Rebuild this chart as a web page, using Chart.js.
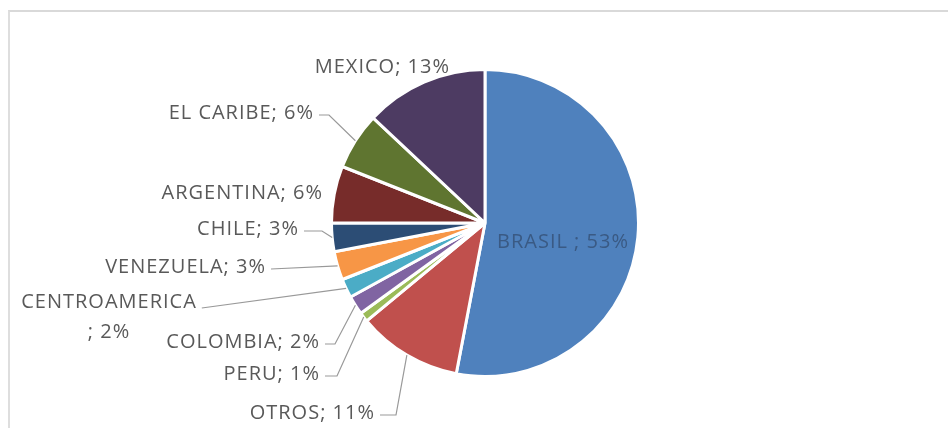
<!DOCTYPE html>
<html>
<head>
<meta charset="utf-8">
<script src="https://cdn.jsdelivr.net/npm/chart.js@4/dist/chart.umd.min.js"></script>
<style>
  html, body { margin: 0; padding: 0; background: #fff; }
  #wrap { position: relative; width: 948px; height: 428px; overflow: hidden; }
  #frame { position: absolute; left: 8px; top: 10px; width: 960px; height: 440px;
           border-top: 2px solid #d9d9d9; border-left: 2px solid #dedede; box-sizing: border-box; }
  canvas { position: absolute; left: 0; top: 0; }
</style>
</head>
<body>
<div id="wrap">
  <div id="frame"></div>
  <canvas id="chart" width="948" height="428"></canvas>
</div>
<script>
// datos
const categories = ["BRASIL", "OTROS", "PERU", "COLOMBIA", "CENTROAMERICA", "VENEZUELA", "CHILE", "ARGENTINA", "EL CARIBE", "MEXICO"];
const shares = [53, 11, 1, 2, 2, 3, 3, 6, 6, 13];
const sliceColors = ["#4f81bd", "#c0504d", "#9bbb59", "#8064a2", "#4bacc6", "#f79646", "#2c4d75", "#772c2a", "#5f7530", "#4d3b62"];

// posicion de las etiquetas, relativa al centro del pastel
const labelLayout = [
  { dx: 78,   dy: 19,   align: "center", inside: true, sep: " " },
  { dx: -110, dy: 190,  align: "right", elbow: 16 },
  { dx: -165, dy: 151,  align: "right", elbow: 12 },
  { dx: -165, dy: 119,  align: "right", elbow: 10 },
  { dx: -376, dy: 79,   align: "center", wrap: true, elbow: 0, leaderDy: 6 },
  { dx: -219, dy: 44,   align: "right", elbow: 0, leaderDy: 2 },
  { dx: -186, dy: 6,    align: "right", elbow: 18, leaderDy: 2 },
  { dx: -162, dy: -30,  align: "right" },
  { dx: -171, dy: -110, align: "right", elbow: 10, leaderDy: 2 },
  { dx: -35,  dy: -156, align: "right" }
];

const labelFont = "20px 'Open Sans', sans-serif";

const pieLabels = {
  id: "pieLabels",
  afterDraw(chart) {
    const ctx = chart.ctx;
    const meta = chart.getDatasetMeta(0);
    ctx.save();
    ctx.font = labelFont;
    ctx.letterSpacing = "1px";
    ctx.textBaseline = "middle";
    meta.data.forEach((arc, i) => {
      const lay = labelLayout[i];
      const { x, y, startAngle, endAngle, outerRadius } = arc.getProps(["x", "y", "startAngle", "endAngle", "outerRadius"], true);
      const tx = x + lay.dx, ty = y + lay.dy;
      const sep = lay.sep || "";
      let lines = lay.wrap ? [categories[i], "; " + shares[i] + "%"] : [categories[i] + sep + "; " + shares[i] + "%"];
      ctx.fillStyle = lay.inside ? "#3a5a84" : "#595959";
      ctx.textAlign = lay.align;
      lines.forEach((t, k) => ctx.fillText(t, tx, ty + k * 30));

      if (lay.elbow !== undefined) {
        const w = ctx.measureText(lines[0]).width;
        const right = lay.align === "right" ? tx : tx + w / 2;
        const sx = right + 5, sy = ty + (lay.leaderDy || 2);
        const mid = (startAngle + endAngle) / 2;
        const ex = x + Math.cos(mid) * outerRadius;
        const ey = y + Math.sin(mid) * outerRadius;
        ctx.strokeStyle = "#999999";
        ctx.lineWidth = 1.2;
        ctx.beginPath();
        ctx.moveTo(sx, sy);
        if (lay.elbow > 0) ctx.lineTo(sx + lay.elbow, sy);
        ctx.lineTo(ex, ey);
        ctx.stroke();
      }
    });
    ctx.restore();
  }
};

new Chart(document.getElementById("chart"), {
  type: "pie",
  data: {
    labels: categories,
    datasets: [{
      data: shares,
      backgroundColor: sliceColors,
      borderColor: "#ffffff",
      borderWidth: 3
    }]
  },
  options: {
    responsive: false,
    animation: false,
    layout: { padding: { top: 68, bottom: 50, left: 22, right: 0 } },
    plugins: {
      legend: { display: false },
      tooltip: { enabled: false }
    }
  },
  plugins: [pieLabels]
});
</script>
</body>
</html>
